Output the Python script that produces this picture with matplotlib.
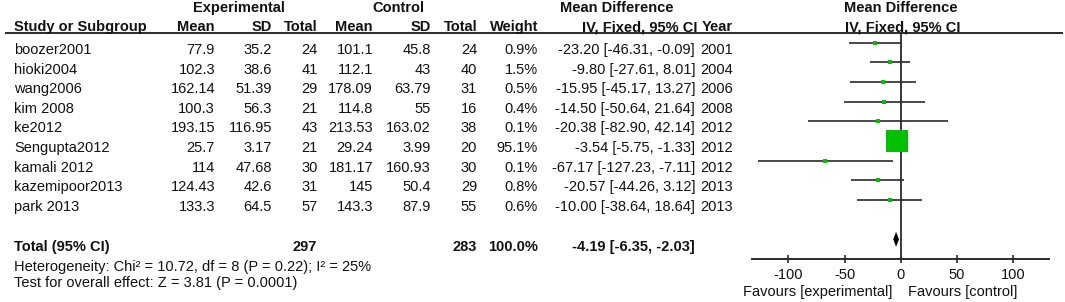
import matplotlib
matplotlib.use("Agg")
import matplotlib.pyplot as plt
from matplotlib.patches import Polygon

# ---------------- data ----------------
studies = ['boozer2001', 'hioki2004', 'wang2006', 'kim 2008', 'ke2012',
           'Sengupta2012', 'kamali 2012', 'kazemipoor2013', 'park 2013']
exp_mean = [77.9, 102.3, 162.14, 100.3, 193.15, 25.7, 114, 124.43, 133.3]
exp_sd = [35.2, 38.6, 51.39, 56.3, 116.95, 3.17, 47.68, 42.6, 64.5]
exp_n = [24, 41, 29, 21, 43, 21, 30, 31, 57]
ctl_mean = [101.1, 112.1, 178.09, 114.8, 213.53, 29.24, 181.17, 145, 143.3]
ctl_sd = [45.8, 43, 63.79, 55, 163.02, 3.99, 160.93, 50.4, 87.9]
ctl_n = [24, 40, 31, 16, 38, 20, 30, 29, 55]
weight = [0.9, 1.5, 0.5, 0.4, 0.1, 95.1, 0.1, 0.8, 0.6]
md = [-23.20, -9.80, -15.95, -14.50, -20.38, -3.54, -67.17, -20.57, -10.00]
ci_lo = [-46.31, -27.61, -45.17, -50.64, -82.90, -5.75, -127.23, -44.26, -38.64]
ci_hi = [-0.09, 8.01, 13.27, 21.64, 42.14, -1.33, -7.11, 3.12, 18.64]
years = [2001, 2004, 2006, 2008, 2012, 2012, 2012, 2013, 2013]
total_exp_n = 297
total_ctl_n = 283
total_weight = 100.0
total_md = -4.19
total_lo = -6.35
total_hi = -2.03
xticks = [-100, -50, 0, 50, 100]
heterogeneity = "Heterogeneity: Chi² = 10.72, df = 8 (P = 0.22); I² = 25%"
overall = "Test for overall effect: Z = 3.81 (P = 0.0001)"

# ---------------- figure ----------------
W, H = 1065, 302
plt.rcParams['font.family'] = ['Liberation Sans', 'DejaVu Sans']
FS = 10.5
fig = plt.figure(figsize=(W / 100, H / 100), dpi=100)
fig.patch.set_facecolor('white')

ax_t = fig.add_axes([0, 0, 1, 1])
ax_t.set_xlim(0, W)
ax_t.set_ylim(H, 0)
ax_t.axis('off')

LINE = '#2a2a2a'
GREEN = '#00C000'


def txt(x, y, s, ha='right', bold=False):
    ax_t.text(x, y, s, ha=ha, va='baseline', fontsize=FS,
              fontweight='bold' if bold else 'normal', color='#111111')


def g(v):
    return f"{v:g}"


# headers
hy1, hy2 = 12, 31
txt(239, hy1, 'Experimental', ha='center', bold=True)
txt(398, hy1, 'Control', ha='center', bold=True)
txt(617, hy1, 'Mean Difference', ha='center', bold=True)
txt(901, hy1, 'Mean Difference', ha='center', bold=True)

col_x = [215, 272, 318, 373, 431, 477, 538, 697]
txt(14, hy2, 'Study or Subgroup', ha='left', bold=True)
for x, s in zip(col_x, ['Mean', 'SD', 'Total', 'Mean', 'SD', 'Total',
                        'Weight', 'IV, Fixed, 95% CI']):
    txt(x, hy2, s, bold=True)
txt(702, hy2, 'Year', ha='left', bold=True)
txt(903, hy2, 'IV, Fixed, 95% CI', ha='center', bold=True)

ax_t.plot([5, 1063], [33, 33], color=LINE, lw=1.4, solid_capstyle='butt')

# rows
base0, step = 54, 19.6
for i in range(len(studies)):
    y = base0 + step * i
    txt(14, y, studies[i], ha='left')
    vals = [g(exp_mean[i]), g(exp_sd[i]), str(exp_n[i]),
            g(ctl_mean[i]), g(ctl_sd[i]), str(ctl_n[i]),
            f"{weight[i]:.1f}%",
            f"{md[i]:.2f} [{ci_lo[i]:.2f}, {ci_hi[i]:.2f}]"]
    for x, s in zip(col_x[:7] + [695], vals):
        txt(x, y, s)
    txt(700, y, str(years[i]), ha='left')

# total row
ty = 251
txt(14, ty, 'Total (95% CI)', ha='left', bold=True)
txt(317, ty, str(total_exp_n), bold=True)
txt(477, ty, str(total_ctl_n), bold=True)
txt(538, ty, f"{total_weight:.1f}%", bold=True)
txt(695, ty, f"{total_md:.2f} [{total_lo:.2f}, {total_hi:.2f}]", bold=True)
txt(14, 271, heterogeneity, ha='left')
txt(14, 287, overall, ha='left')

# ---------------- forest axes ----------------
x0_px, x1_px = 752.3, 1049.3
ytop_px, ybot_px = 33, 258.5
ax = fig.add_axes([x0_px / W, (H - ybot_px) / H,
                   (x1_px - x0_px) / W, (ybot_px - ytop_px) / H])
ax.set_facecolor('none')
row0_px, row_step = 42.7, 19.66
idx_top = (ytop_px - row0_px) / row_step
idx_bot = (ybot_px - row0_px) / row_step
ax.set_xlim(-132, 132)
ax.set_ylim(idx_bot, idx_top)
for sp in ['top', 'left', 'right']:
    ax.spines[sp].set_visible(False)
ax.spines['bottom'].set_color(LINE)
ax.spines['bottom'].set_linewidth(1.4)
ax.set_yticks([])
ax.set_xticks(xticks)
ax.set_xticklabels([str(t) for t in xticks])
ax.tick_params(axis='x', direction='inout', length=6, width=1.2,
               color=LINE, labelsize=FS, pad=4, labelcolor='#111111')

ax.axvline(0, color=LINE, lw=1.3, zorder=1)

max_side = 15.6  # points, for the largest weight
for i in range(len(studies)):
    ax.plot([ci_lo[i], ci_hi[i]], [i, i], color=LINE, lw=1.2, zorder=2,
            solid_capstyle='butt')
    side = max(2.2, max_side * (weight[i] / max(weight)) ** 0.5)
    ax.plot([md[i]], [i], marker='s', markersize=side, color=GREEN,
            markeredgewidth=0, linestyle='none', zorder=3)

dy = 6.6 / row_step
diamond = Polygon([(total_lo, 10), (total_md, 10 - dy), (total_hi, 10),
                   (total_md, 10 + dy)], closed=True, facecolor='black',
                  edgecolor='black', lw=0.5, zorder=4)
ax.add_patch(diamond)

txt(892, 296, 'Favours [experimental]', ha='right')
txt(908, 296, 'Favours [control]', ha='left')

fig.savefig('out.png', dpi=100, facecolor='white')
